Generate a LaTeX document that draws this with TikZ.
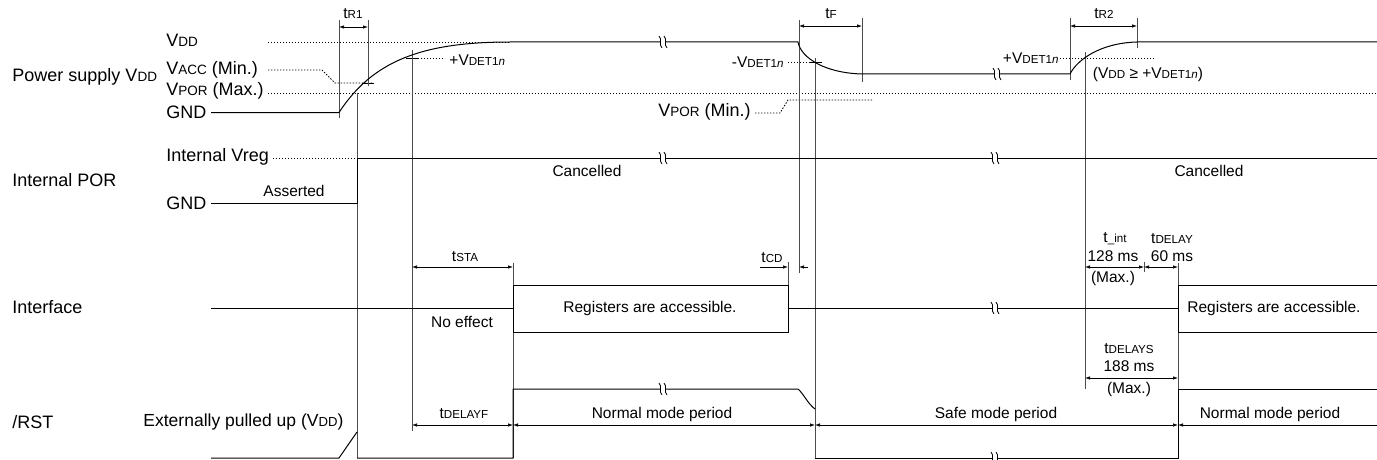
\documentclass[tikz,border=0pt]{standalone}
\usepackage{fontspec}
\setmainfont{Liberation Sans}
\usetikzlibrary{arrows.meta}
\newcommand\lo[1]{\scalebox{0.75}{#1}}
\begin{document}
\begin{tikzpicture}[x=1pt,y=-1pt,line width=0.9pt,
  lbl/.style={font=\fontsize{18}{20}\selectfont,inner sep=0pt},
  txt/.style={font=\fontsize{15.5}{18}\selectfont,inner sep=0pt},
  trace/.style={line width=1pt,black},
  refl/.style={line width=0.9pt,black!70},
  dots/.style={line width=0.9pt,dash pattern=on 1.4pt off 1.6pt},
  tip/.tip={Latex[length=5pt,width=3.5pt]},
  dim/.style={line width=0.7pt,tip-tip},
  dimr/.style={line width=0.7pt,-tip},
  diml/.style={line width=0.7pt,tip-},
  brk/.pic={\fill[white] (-2.5,-6) rectangle (2.5,6);
    \draw[line width=0.8pt] (-4,-6) .. controls (0,-2) and (-5,2) .. (-1,6)
      (1,-6) .. controls (5,-2) and (0,2) .. (4,6);}
]
\useasboundingbox (0,0) rectangle (1377,460);
% left labels
\node[lbl,anchor=west] (lps) at (12,77) {Power supply V\lo{DD}};
\node[lbl,anchor=west] (lvdd) at (166,40) {V\lo{DD}};
\node[lbl,anchor=west] (lacc) at (166,70) {V\lo{ACC} (Min.)};
\node[lbl,anchor=west] (lpor) at (166,91) {V\lo{POR} (Max.)};
\node[lbl,anchor=west] (lgnda) at (166,112) {GND};
\node[lbl,anchor=west] (lvreg) at (166,157) {Internal Vreg};
\node[lbl,anchor=west] (lipor) at (12,180) {Internal POR};
\node[lbl,anchor=west] (lgndb) at (166,203) {GND};
\node[lbl,anchor=west] (lif) at (12,307) {Interface};
\node[lbl,anchor=west] (lrst) at (12,422) {/RST};
\node[lbl,anchor=west,font=\fontsize{17.5}{20}\selectfont] (lext) at (143,422) {Externally pulled up (V\lo{DD})};
\node[lbl,anchor=east] (lpormin) at (751,112) {V\lo{POR} (Min.)};
% dotted reference levels
\draw[dots] (268,42) -- (510,42);
\draw[dots] (268,70) -- (322,70) -- (335,83) -- (373,83);
\draw[dots] (268,93) -- (1377,93);
\draw[dots] (755,113) -- (780,113) -- (788,100) -- (872,100);
\draw[dots] (273,158) -- (357,158);
\draw[dots] (418,58) -- (445,58);
\draw[dots] (788,62) -- (810,62);
\draw[dots] (1060,58) -- (1155,58);
\draw[line width=0.8pt] (406,58) -- (418,58) (810,62) -- (822,62) (362,83) -- (374,83);
% VDET labels
\node[txt,anchor=west] (vd1) at (449,60) {+V\lo{DET1\textit{n}}};
\node[txt,anchor=east] (vd2) at (784,62) {-V\lo{DET1\textit{n}}};
\node[txt,anchor=east] (vd3) at (1059,58) {+V\lo{DET1\textit{n}}};
\node[txt] (vcond) at (1148,74) {(V\lo{DD} ≥ +V\lo{DET1\textit{n}})};
% reference verticals
\draw[refl] (339,20) -- (339,118);
\draw[refl] (368,20) -- (368,86);
\draw[refl] (357,93) -- (357,458);
\draw[refl] (412,50) -- (412,431);
\draw[refl] (788,262) -- (788,332);
\draw[refl] (799,20) -- (799,273);
\draw[refl] (815,58) -- (815,458);
\draw[refl] (862,18) -- (862,82);
\draw[refl] (1070,18) -- (1070,80);
\draw[refl] (1137,18) -- (1137,48);
\draw[refl] (1085,52) -- (1085,389);
\draw[refl] (513,263) -- (513,458);
\draw[refl] (1178,263) -- (1178,458);
\draw[refl] (1144,262) -- (1144,272);
% VDD trace
\draw[trace] (211,112.5) -- (339,112.5) .. controls (372,62) and (420,42) .. (510,42)
  -- (798,42) .. controls (801,58) and (825,73) .. (862,74) -- (1070,74)
  .. controls (1077,60) and (1100,43) .. (1137,42) -- (1377,42);
% Internal POR
\draw[trace] (211,203) -- (357,203) -- (357,158) -- (1377,158);
\node[txt] (asserted) at (294,191) {Asserted};
\node[txt] (canc1) at (587,171) {Cancelled};
\node[txt] (canc2) at (1209,171) {Cancelled};
% Interface
\draw[trace] (211,308) -- (513,308);
\draw[trace] (513,285) rectangle (788,332);
\draw[trace] (788,308) -- (1178,308);
\draw[trace] (1377,285) -- (1178,285) -- (1178,332) -- (1377,332);
\node[txt] (reg1) at (650,308) {Registers are accessible.};
\node[txt] (reg2) at (1274,308) {Registers are accessible.};
\node[txt] (noeff) at (462,322) {No effect};
% RST
\draw[trace] (211,458) -- (339,458) -- (357,432);
\draw[trace] (357,458) -- (513,458) -- (513,389) -- (798,389)
  .. controls (803,393) and (808,404) .. (815,409);
\draw[trace] (815,458) -- (1178,458) -- (1178,389) -- (1377,389);
% break marks
\foreach \bx/\by in {663/42,663/158,663/389,997/74,995/158,995/308,995/458}
  \pic at (\bx,\by) {brk};
% dimensions top
\draw[dim] (339,27) -- (368,27);
\node[txt] (ttr1) at (353,14) {t\lo{R1}};
\draw[dim] (799,26) -- (862,26);
\node[txt] (ttf) at (831,14) {t\lo{F}};
\draw[dim] (1070,26) -- (1137,26);
\node[txt] (ttr2) at (1104,14) {t\lo{R2}};
% interface dims
\draw[dim] (412,267) -- (513,267);
\node[txt] (tsta) at (465,257) {t\lo{STA}};
\draw[dimr] (760,267) -- (788,267);
\draw[dimr] (808,267) -- (799,267);
\node[txt] (tcd) at (772,258) {t\lo{CD}};
\draw[dim] (1085,267) -- (1144,267);
\draw[dim] (1144,267) -- (1178,267);
\node[txt] (tint) at (1115,239) {t\lo{\_int}};
\node[txt] (t128) at (1113,256) {128 ms};
\node[txt] (tmaxa) at (1113,278) {(Max.)};
\node[txt] (tdel) at (1172,239) {t\lo{DELAY}};
\node[txt] (t60) at (1172,256) {60 ms};
\draw[dim] (1085,378) -- (1178,378);
\node[txt] (tdels) at (1129,349) {t\lo{DELAYS}};
\node[txt] (t188) at (1129,366) {188 ms};
\node[txt] (tmaxb) at (1129,389) {(Max.)};
% RST dims
\draw[dim] (412,425) -- (513,425);
\node[txt] (tdelf) at (464,414) {t\lo{DELAYF}};
\draw[dim] (513,425) -- (815,425);
\node[txt] (nm1) at (662,414) {Normal mode period};
\draw[dim] (815,425) -- (1178,425);
\node[txt] (sm) at (996,414) {Safe mode period};
\draw[diml] (1178,425) -- (1377,425);
\node[txt] (nm2) at (1270,414) {Normal mode period};
\end{tikzpicture}
\end{document}
